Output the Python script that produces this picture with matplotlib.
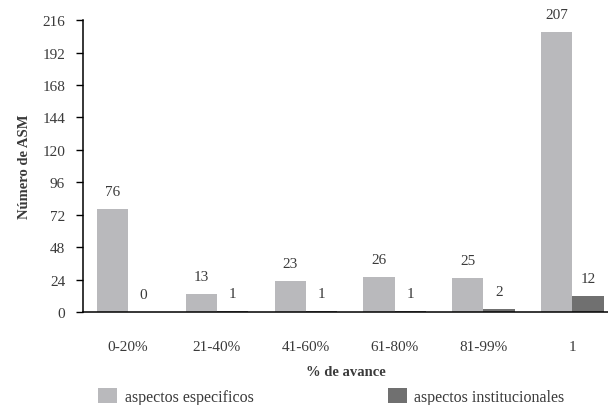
"""Grouped bars: ASM count by progress band, specific vs institutional aspects."""

import numpy as np
import matplotlib.pyplot as plt

CATEGORIES = ["0-20%", "21-40%", "41-60%", "61-80%", "81-99%", "1"]
ESPECIFICOS = [76, 13, 23, 26, 25, 207]
INSTITUCIONALES = [0, 1, 1, 1, 2, 12]
Y_TICKS = [0, 24, 48, 72, 96, 120, 144, 168, 192, 216]

LIGHT = "#b9b9bc"
DARK = "#707070"
TEXT = "#3a3a3a"

plt.rcParams["font.family"] = ["Liberation Serif", "DejaVu Serif"]

fig = plt.figure(figsize=(6.08, 4.06), dpi=100)
ax = fig.add_axes([0.137, 0.229, 0.863, 0.719])

x = np.arange(len(CATEGORIES))
width = 0.35
b1 = ax.bar(x - width / 2, ESPECIFICOS, width, color=LIGHT,
            label="aspectos especificos")
b2 = ax.bar(x + width / 2, INSTITUCIONALES, width, color=DARK,
            label="aspectos institucionales")

for bars, vals in ((b1, ESPECIFICOS), (b2, INSTITUCIONALES)):
    for rect, v in zip(bars, vals):
        ax.annotate(str(v), (rect.get_x() + rect.get_width() / 2, v),
                    xytext=(0, 8), textcoords="offset points",
                    ha="center", va="bottom", fontsize=11, color=TEXT)

ax.set_xlim(-0.5, 5.4)
ax.set_ylim(0, 216)
ax.set_yticks(Y_TICKS)
ax.set_xticks(x)
ax.set_xticklabels(CATEGORIES)
ax.tick_params(axis="x", length=0, pad=20, labelsize=11, labelcolor=TEXT)
ax.tick_params(axis="y", length=5, width=1, labelsize=11, labelcolor=TEXT,
               direction="out", pad=8)

for side in ("top", "right"):
    ax.spines[side].set_visible(False)
ax.spines["left"].set_linewidth(1.1)
ax.spines["bottom"].set_linewidth(1.1)

ax.set_xlabel("% de avance", fontsize=10.5, fontweight="bold", color=TEXT,
              labelpad=9)
ax.set_ylabel("Número de ASM", fontsize=10.5, fontweight="bold", color=TEXT,
              labelpad=8)

fig.legend(handles=[b1, b2], loc="lower left", bbox_to_anchor=(0.138, -0.035),
           ncol=2, frameon=False, fontsize=11.5, columnspacing=8.4,
           handlelength=1.2, handleheight=1.1, handletextpad=0.45,
           labelcolor=TEXT)

fig.savefig("out.png", dpi=100)
